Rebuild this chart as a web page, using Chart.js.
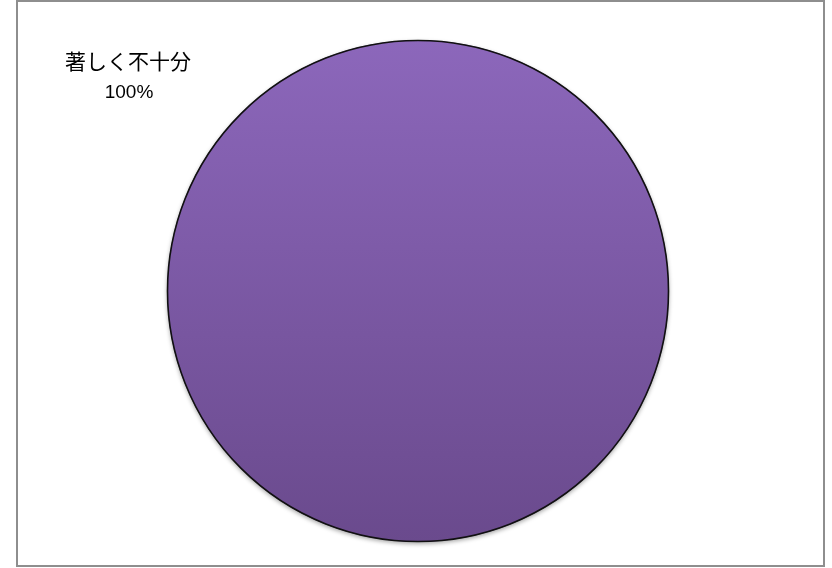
<!DOCTYPE html>
<html>
<head>
<meta charset="utf-8">
<script src="https://cdn.jsdelivr.net/npm/chart.js@4/dist/chart.umd.min.js"></script>
<style>
	body { margin: 0; background: #fff; }
	#wrap { width: 832px; height: 568px; }
</style>
</head>
<body>
<div id="wrap"><canvas id="c" width="832" height="568"></canvas></div>
<script>
var labels = ["著しく不十分"];
var values = [100];
var colorsTop = ["#8c67bb"];
var colorsBottom = ["#6a4a8d"];

// frame round the chart and the Excel-style outside label
var framePlugin = {
	id: 'frame',
	beforeDraw: function(chart){
		var ctx = chart.ctx;
		ctx.save();
		ctx.fillStyle = "#ffffff";
		ctx.fillRect(0, 0, chart.width, chart.height);
		ctx.strokeStyle = "#8e8e8e";
		ctx.lineWidth = 2;
		ctx.strokeRect(17, 1, 807, 565);
		ctx.restore();
	},
	beforeDatasetDraw: function(chart){
		var ctx = chart.ctx;
		ctx.save();
		ctx.shadowColor = "rgba(0,0,0,0.35)";
		ctx.shadowBlur = 4;
		ctx.shadowOffsetY = 2;
	},
	afterDatasetDraw: function(chart){
		var ctx = chart.ctx;
		ctx.restore();
		// outline only the outer edge (no radial seam for a single 100% slice)
		var arc = chart.getDatasetMeta(0).data[0];
		ctx.save();
		ctx.strokeStyle = "#111111";
		ctx.lineWidth = 1.6;
		ctx.beginPath();
		ctx.arc(arc.x, arc.y, arc.outerRadius - 0.5, 0, Math.PI * 2);
		ctx.stroke();
		ctx.restore();
	},
	afterDraw: function(chart){
		var ctx = chart.ctx;
		var total = values.reduce(function(a, b){ return a + b; }, 0);
		ctx.save();
		ctx.fillStyle = "#000";
		ctx.textAlign = "center";
		ctx.textBaseline = "middle";
		for (var i = 0; i < labels.length; i++) {
			ctx.font = "21px 'Noto Sans CJK JP', sans-serif";
			ctx.fillText(labels[i], 128, 61);
			ctx.font = "19px 'Liberation Sans', sans-serif";
			ctx.fillText(Math.round(values[i] / total * 100) + "%", 129, 93);
		}
		ctx.restore();
	}
};

function gradFill(context){
	var chart = context.chart;
	var area = chart.chartArea;
	if (!area) return colorsTop[context.dataIndex];
	var g = chart.ctx.createLinearGradient(0, area.top, 0, area.bottom);
	g.addColorStop(0, colorsTop[context.dataIndex]);
	g.addColorStop(1, colorsBottom[context.dataIndex]);
	return g;
}

var config = {
	type: 'pie',
	data: {
		labels: labels,
		datasets: [
			{
				data: values,
				backgroundColor: gradFill,
				borderWidth: 0
			}
		]
	},
	options: {
		responsive: false,
		animation: false,
		layout: {
			padding: { top: 40, bottom: 26, left: 4, right: 0 }
		},
		plugins: {
			legend: { display: false },
			tooltip: { enabled: false }
		}
	},
	plugins: [framePlugin]
};

var myChart = new Chart(document.getElementById('c'), config);
</script>
</body>
</html>
